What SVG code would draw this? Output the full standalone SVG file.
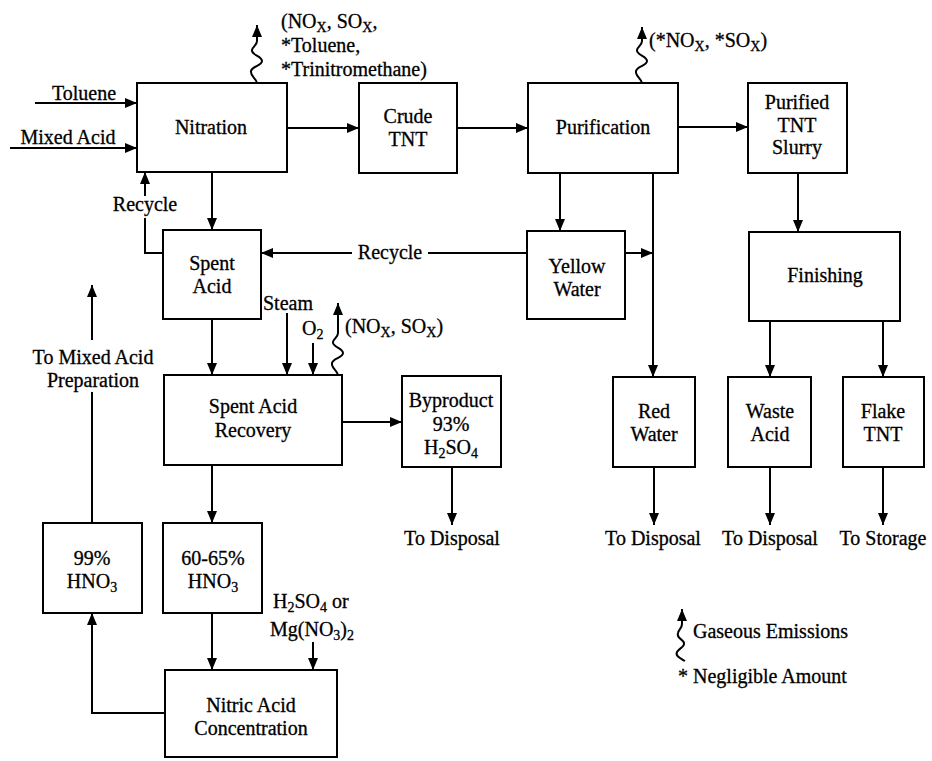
<svg xmlns="http://www.w3.org/2000/svg" width="932" height="761" viewBox="0 0 932 761">
<style>
text{font-family:"Liberation Serif","Times New Roman",serif;font-size:20px;fill:#000;stroke:#000;stroke-width:0.3}
.c{text-anchor:middle}
.s{font-size:14px}
rect{fill:#fff;stroke:#000;stroke-width:2}
.ln{fill:none;stroke:#000;stroke-width:2}
</style>
<defs>
<marker id="arr" viewBox="0 0 12 10" markerWidth="12" markerHeight="10" refX="12" refY="5" orient="auto" markerUnits="userSpaceOnUse">
<path d="M0,0 L12,5 L0,10 z" fill="#000"/>
</marker>
</defs>
<rect width="932" height="761" style="fill:#fff;stroke:none"/>

<g id="connectors">
<line class="ln" x1="35" y1="103" x2="137" y2="103" marker-end="url(#arr)"/>
<line class="ln" x1="10" y1="148" x2="137" y2="148" marker-end="url(#arr)"/>
<line class="ln" x1="287" y1="128" x2="359" y2="128" marker-end="url(#arr)"/>
<line class="ln" x1="457" y1="128" x2="528" y2="128" marker-end="url(#arr)"/>
<line class="ln" x1="678" y1="127" x2="748" y2="127" marker-end="url(#arr)"/>
<line class="ln" x1="212" y1="172" x2="212" y2="230" marker-end="url(#arr)"/>
<polyline class="ln" points="163,253 145,253 145,218"/>
<line class="ln" x1="145" y1="196" x2="145" y2="172" marker-end="url(#arr)"/>
<line class="ln" x1="527" y1="253" x2="428" y2="253"/>
<line class="ln" x1="352" y1="253" x2="261" y2="253" marker-end="url(#arr)"/>
<line class="ln" x1="560" y1="173" x2="560" y2="231" marker-end="url(#arr)"/>
<line class="ln" x1="653" y1="173" x2="653" y2="377" marker-end="url(#arr)"/>
<line class="ln" x1="625" y1="253" x2="653" y2="253" marker-end="url(#arr)"/>
<line class="ln" x1="798" y1="173" x2="798" y2="232" marker-end="url(#arr)"/>
<line class="ln" x1="770" y1="321" x2="770" y2="377" marker-end="url(#arr)"/>
<line class="ln" x1="883" y1="321" x2="883" y2="377" marker-end="url(#arr)"/>
<line class="ln" x1="654" y1="467" x2="654" y2="525" marker-end="url(#arr)"/>
<line class="ln" x1="770" y1="467" x2="770" y2="525" marker-end="url(#arr)"/>
<line class="ln" x1="883" y1="467" x2="883" y2="525" marker-end="url(#arr)"/>
<line class="ln" x1="212" y1="319" x2="212" y2="375" marker-end="url(#arr)"/>
<line class="ln" x1="287" y1="313" x2="287" y2="375" marker-end="url(#arr)"/>
<line class="ln" x1="313" y1="343" x2="313" y2="375" marker-end="url(#arr)"/>
<line class="ln" x1="342" y1="422" x2="402" y2="422" marker-end="url(#arr)"/>
<line class="ln" x1="452" y1="467" x2="452" y2="525" marker-end="url(#arr)"/>
<line class="ln" x1="212" y1="465" x2="212" y2="523" marker-end="url(#arr)"/>
<line class="ln" x1="212" y1="613" x2="212" y2="670" marker-end="url(#arr)"/>
<line class="ln" x1="313" y1="642" x2="313" y2="670" marker-end="url(#arr)"/>
<polyline class="ln" points="165,713 92,713 92,613" marker-end="url(#arr)"/>
<line class="ln" x1="92" y1="523" x2="92" y2="392"/>
<line class="ln" x1="92" y1="340" x2="92" y2="285" marker-end="url(#arr)"/>
<path class="ln" d="M257,83 C256,78 250,76 251,71 C252,66 262,66 262,61 C262,56 251,55 252,50 C253,46 257,45 257,41 L257,25" marker-end="url(#arr)"/>
<path class="ln" d="M642,83 C641,78 635,76 636,71 C637,66 647,66 647,61 C647,56 636,55 637,50 C638,46 642,45 642,41 L642,27" marker-end="url(#arr)"/>
<path class="ln" d="M338,375 C337,370 331,368 332,363 C333,358 343,358 343,353 C343,348 332,347 333,342 C334,338 338,337 338,333 L338,303" marker-end="url(#arr)"/>
</g>

<g id="nitration"><rect x="137" y="83" width="150" height="89"/><text class="c" x="211" y="134">Nitration</text></g>
<g id="crude-tnt"><rect x="359" y="83" width="98" height="90"/><text class="c" x="408" y="123">Crude</text><text class="c" x="408" y="146">TNT</text></g>
<g id="purification"><rect x="528" y="83" width="150" height="90"/><text class="c" x="603" y="134">Purification</text></g>
<g id="purified-tnt-slurry"><rect x="748" y="83" width="99" height="90"/><text class="c" x="797" y="109">Purified</text><text class="c" x="797" y="132">TNT</text><text class="c" x="797" y="154">Slurry</text></g>
<g id="spent-acid"><rect x="163" y="230" width="98" height="89"/><text class="c" x="212" y="270">Spent</text><text class="c" x="212" y="293">Acid</text></g>
<g id="yellow-water"><rect x="527" y="231" width="98" height="88"/><text class="c" x="577" y="273">Yellow</text><text class="c" x="577" y="296">Water</text></g>
<g id="finishing"><rect x="749" y="232" width="151" height="89"/><text class="c" x="825" y="282">Finishing</text></g>
<g id="spent-acid-recovery"><rect x="164" y="375" width="178" height="90"/><text class="c" x="253" y="413">Spent Acid</text><text class="c" x="253" y="437">Recovery</text></g>
<g id="byproduct"><rect x="402" y="376" width="99" height="91"/><text class="c" x="451" y="407">Byproduct</text><text class="c" x="451" y="431">93%</text><text class="c" x="451" y="454">H<tspan class="s" dy="4">2</tspan><tspan dy="-4">SO</tspan><tspan class="s" dy="4">4</tspan></text></g>
<g id="red-water"><rect x="613" y="377" width="82" height="90"/><text class="c" x="654" y="418">Red</text><text class="c" x="654" y="441">Water</text></g>
<g id="waste-acid"><rect x="728" y="377" width="83" height="90"/><text class="c" x="770" y="418">Waste</text><text class="c" x="770" y="441">Acid</text></g>
<g id="flake-tnt"><rect x="843" y="377" width="81" height="90"/><text class="c" x="883" y="418">Flake</text><text class="c" x="883" y="441">TNT</text></g>
<g id="hno3-99"><rect x="43" y="523" width="99" height="90"/><text class="c" x="92" y="565">99%</text><text class="c" x="92" y="588">HNO<tspan class="s" dy="4">3</tspan></text></g>
<g id="hno3-60-65"><rect x="163" y="523" width="99" height="90"/><text class="c" x="213" y="565">60-65%</text><text class="c" x="213" y="588">HNO<tspan class="s" dy="4">3</tspan></text></g>
<g id="nitric-acid-concentration"><rect x="165" y="670" width="172" height="87"/><text class="c" x="251" y="712">Nitric Acid</text><text class="c" x="251" y="735">Concentration</text></g>

<g id="labels">
<text class="c" x="84" y="100">Toluene</text>
<text class="c" x="68" y="144">Mixed Acid</text>
<text x="281" y="28">(NO<tspan class="s" dy="4">X</tspan><tspan dy="-4">, SO</tspan><tspan class="s" dy="4">X</tspan><tspan dy="-4">,</tspan></text>
<text x="281" y="52">*Toluene,</text>
<text x="281" y="76">*Trinitromethane)</text>
<text x="649" y="47">(*NO<tspan class="s" dy="4">X</tspan><tspan dy="-4">, *SO</tspan><tspan class="s" dy="4">X</tspan><tspan dy="-4">)</tspan></text>
<text class="c" x="145" y="211">Recycle</text>
<text class="c" x="390" y="259">Recycle</text>
<text x="263" y="310">Steam</text>
<text x="302" y="335">O<tspan class="s" dy="4">2</tspan></text>
<text x="345" y="333">(NO<tspan class="s" dy="4">X</tspan><tspan dy="-4">, SO</tspan><tspan class="s" dy="4">X</tspan><tspan dy="-4">)</tspan></text>
<text class="c" x="93" y="364">To Mixed Acid</text>
<text class="c" x="93" y="387">Preparation</text>
<text class="c" x="452" y="545">To Disposal</text>
<text class="c" x="653" y="545">To Disposal</text>
<text class="c" x="770" y="545">To Disposal</text>
<text class="c" x="883" y="545">To Storage</text>
<text x="273" y="608">H<tspan class="s" dy="4">2</tspan><tspan dy="-4">SO</tspan><tspan class="s" dy="4">4</tspan><tspan dy="-4"> or</tspan></text>
<text x="270" y="636">Mg(NO<tspan class="s" dy="4">3</tspan><tspan dy="-4">)</tspan><tspan class="s" dy="4">2</tspan></text>
</g>

<g id="legend">
<path class="ln" d="M685,661 C680,658 675,656 677,652 C679,648 685,647 684,643 C683,639 676,638 678,633 C679,629 682,628 682,624 L682,609" marker-end="url(#arr)"/>
<text x="693" y="638">Gaseous Emissions</text>
<text x="678" y="683">* Negligible Amount</text>
</g>
</svg>
